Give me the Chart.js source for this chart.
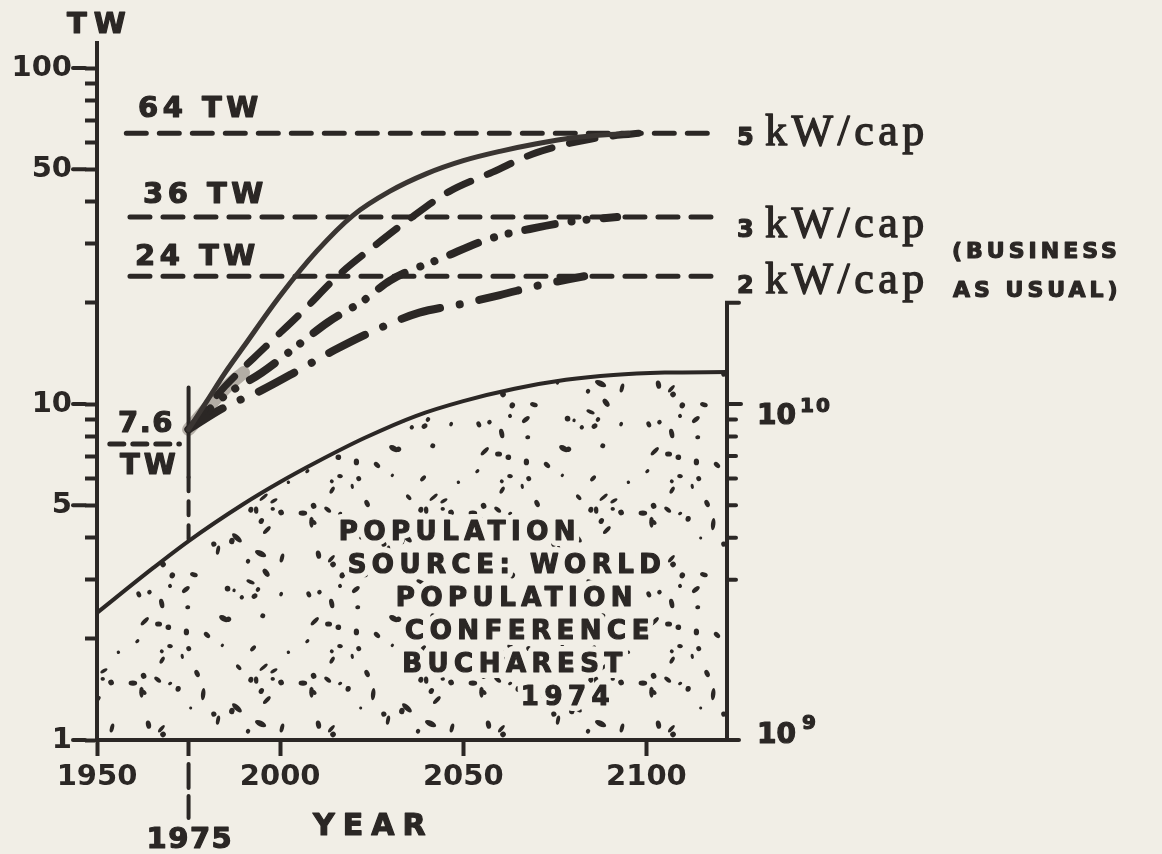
<!DOCTYPE html>
<html>
<head>
<meta charset="utf-8">
<title>Energy demand scenarios and world population</title>
<script src="https://cdn.jsdelivr.net/npm/chart.js@4.4.1/dist/chart.umd.min.js"></script>
<style>
  html, body { margin: 0; padding: 0; background: #f1eee6; }
  canvas { display: block; }
</style>
</head>
<body>
<canvas id="energyChart" width="1162" height="854"></canvas>
<script>
// axes
const xTicks = [1950, 1975, 2000, 2050, 2100];
const twTicks = [1, 2, 3, 4, 5, 6, 7, 8, 9, 10, 20, 30, 40, 50, 60, 70, 80, 90, 100];
const twLabelled = [1, 5, 10, 50, 100];
const popTicks = [3e9, 4e9, 5e9, 6e9, 7e9, 8e9, 9e9, 1e10];
const popAxisTop = 2e10;

// population (persons)
const popYears = [1950, 1965, 1975, 1990, 2000, 2010, 2023, 2037, 2050, 2064, 2078, 2091, 2105, 2122];
const population = [2.39e9, 3.23e9, 3.91e9, 5.04e9, 5.86e9, 6.72e9, 7.92e9, 9.21e9, 10.2e9, 11.1e9, 11.8e9, 12.2e9, 12.4e9, 12.45e9];

// energy demand curves (TW)
const highYears = [1975, 1980, 1985, 1990, 2000, 2010, 2020, 2030, 2040, 2050, 2060, 2070, 2080, 2095];
const highTW = [8.4, 10.2, 12.4, 14.8, 21, 28.5, 36.5, 43, 48.5, 53, 56.5, 59.5, 62, 64];
const fiveYears = [1975, 1985, 1996, 2006, 2016, 2026, 2036, 2046, 2058, 2070, 2085, 2098];
const fiveTW = [8.4, 11.3, 14.8, 18.8, 24.2, 29.7, 36, 42.8, 49, 56, 61.5, 64];
const threeYears = [1975, 1985, 1995, 2005, 2013, 2023, 2030, 2045, 2057, 2070, 2080, 2092];
const threeTW = [8.4, 10.6, 12.4, 15, 17.5, 20.4, 23.3, 27.4, 31, 33.5, 35, 36];
const twoYears = [1975, 1985, 1995, 2005, 2015, 2026, 2038, 2049, 2060, 2071, 2083];
const twoTW = [8.4, 9.8, 11, 12.6, 14.5, 16.6, 18.7, 19.8, 21.1, 22.6, 24];
const smearYears = [1975, 1980, 1986, 1990];
const smearTW = [8.4, 9.7, 11.4, 12.4];

// saturation levels
const levelTW = [64, 36, 24];
const levelStart = [1958, 1959, 1959];
const levelEnd = 2120;
const levelNames = ['64 TW', '36 TW', '24 TW'];
const perCapita = ['5', '3', '2'];

// 1975 reference
const baseYear = 1975;
const baseTW = 7.6;
const baseSpan = [1953.5, 1972.5];
const markerTop = 11.2, markerMid = 6.05, markerBottom = 3.91;

const INK = '#2b2725';
const BG = '#f1eee6';
const SANS = '"DejaVu Sans", sans-serif';
const SERIF = '"Liberation Serif", serif';

function pts(xs, ys) {
    return xs.map((x, i) => ({ x: x, y: ys[i] }));
}

// stipple texture for the population area
function makeStipple(ctx) {
    const size = 170;
    const c = document.createElement('canvas');
    c.width = c.height = size;
    const g = c.getContext('2d');
    let seed = 11;
    const rnd = () => (seed = (seed * 16807) % 2147483647) / 2147483647;
    g.fillStyle = INK;
    for (let i = 0; i < 62; i++) {
        const px = rnd() * size, py = rnd() * size;
        const r = 1.5 + rnd() * 1.4, stretch = 1 + rnd() * rnd() * 2.2, ang = rnd() * Math.PI;
        for (const dx of [-size, 0, size]) {
            for (const dy of [-size, 0, size]) {
                g.beginPath();
                g.ellipse(px + dx, py + dy, r * stretch, r, ang, 0, Math.PI * 2);
                g.fill();
            }
        }
    }
    return ctx.createPattern(c, 'repeat');
}

function text(ctx, str, x, y, size, opts = {}) {
    ctx.save();
    ctx.font = `${opts.weight || 'bold'} ${size}px ${opts.family || SANS}`;
    ctx.letterSpacing = (opts.spacing || 0) + 'px';
    ctx.textAlign = opts.align || 'left';
    ctx.textBaseline = 'alphabetic';
    ctx.lineJoin = 'round';
    if (opts.halo) {
        ctx.strokeStyle = BG;
        ctx.lineWidth = opts.halo;
        ctx.strokeText(str, x, y);
    }
    ctx.fillStyle = INK;
    ctx.fillText(str, x, y);
    ctx.strokeStyle = INK;
    ctx.lineWidth = opts.ink === undefined ? 1.2 : opts.ink;
    if (ctx.lineWidth > 0) ctx.strokeText(str, x, y);
    ctx.restore();
}

function seg(ctx, x1, y1, x2, y2) {
    ctx.beginPath();
    ctx.moveTo(x1, y1);
    ctx.lineTo(x2, y2);
    ctx.stroke();
}

const decor = {
    id: 'decor',
    afterDraw(chart) {
        const { ctx, chartArea: a, scales: { x, y, y2 } } = chart;
        ctx.save();
        ctx.strokeStyle = INK;
        ctx.lineCap = 'round';
        ctx.lineWidth = 4;

        // longer marks at labelled TW ticks
        twLabelled.forEach(v => {
            const py = y.getPixelForValue(v);
            seg(ctx, a.left - 24, py, a.left - 12, py);
        });

        // population axis on the right
        const rx = a.right;
        const top = y2.getPixelForValue(popAxisTop);
        const bottom = y2.getPixelForValue(1e9);
        ctx.beginPath();
        ctx.moveTo(rx + 12, top);
        ctx.lineTo(rx, top);
        ctx.lineTo(rx, bottom);
        ctx.lineTo(rx + 12, bottom);
        ctx.stroke();
        popTicks.forEach(v => {
            const py = y2.getPixelForValue(v);
            seg(ctx, rx, py, rx + (v === 1e10 ? 14 : 9), py);
        });

        // 1975 marker below the axis
        const bx = x.getPixelForValue(baseYear);
        ctx.setLineDash([24, 8]);
        seg(ctx, bx, a.bottom + 24, bx, a.bottom + 78);
        ctx.setLineDash([]);
        ctx.restore();

        // right axis labels
        const p10 = y2.getPixelForValue(1e10);
        const p9 = y2.getPixelForValue(1e9);
        text(ctx, '10', rx + 30, p10 + 20, 28);
        text(ctx, '10', rx + 73, p10 + 8, 20, { spacing: 2 });
        text(ctx, '10', rx + 30, p9 + 3, 28);
        text(ctx, '9', rx + 75, p9 - 11, 20);

        // axis titles
        text(ctx, 'TW', a.left - 30, a.top - 10, 29, { spacing: 7 });
        text(ctx, 'YEAR', 313, a.bottom + 95, 30, { spacing: 8 });
        text(ctx, '1975', bx - 42, a.bottom + 108, 29, { spacing: 1.5 });

        // level labels
        const nameX = [138, 143, 135];
        const nameOff = [-16, -14, -11];
        const capOff = [12, 20, 17];
        levelTW.forEach((v, i) => {
            const py = y.getPixelForValue(v);
            text(ctx, levelNames[i], nameX[i], py + nameOff[i], 29, { spacing: 4.5 });
            text(ctx, perCapita[i], rx + 10, py + capOff[i], 24);
            text(ctx, 'kW/cap', rx + 38, py + capOff[i], 44, { family: SERIF, weight: 'normal', spacing: 4.5, ink: 1.3 });
        });
        const p2 = y.getPixelForValue(levelTW[2]);
        text(ctx, '(BUSINESS', rx + 225, p2 - 18, 22, { spacing: 4 });
        text(ctx, 'AS USUAL)', rx + 226, p2 + 21, 22, { spacing: 4 });

        // 7.6 TW
        const p76 = y.getPixelForValue(baseTW);
        text(ctx, '7.6', 118, p76 - 12, 29, { spacing: 1.5 });
        text(ctx, 'TW', 120, p76 + 30, 29, { spacing: 4 });

        // population source note
        const note = ['POPULATION', 'SOURCE: WORLD', 'POPULATION', 'CONFERENCE', 'BUCHAREST', '1974'];
        const noteX = [457, 504, 514, 527, 512, 565];
        note.forEach((s, i) => {
            text(ctx, s, noteX[i] + 3, 540 + i * 33, 26, { spacing: 5.5, align: 'center', halo: 12 });
        });
    }
};

const bgPlugin = {
    id: 'bg',
    beforeDraw(chart) {
        const c = chart.ctx;
        c.save();
        c.fillStyle = BG;
        c.fillRect(0, 0, chart.width, chart.height);
        c.restore();
    }
};

const cv = document.getElementById('energyChart');
const ctx = cv.getContext('2d');
const tickFont = { family: 'DejaVu Sans', size: 29, weight: 'bold' };

const energyChart = new Chart(ctx, {
    type: 'line',
    data: {
        datasets: [
            {
                label: 'Population',
                data: pts(popYears, population),
                yAxisID: 'y2',
                borderColor: INK,
                borderWidth: 4,
                backgroundColor: makeStipple(ctx),
                fill: 'start',
                cubicInterpolationMode: 'monotone',
                order: 5
            },
            {
                label: 'smear',
                data: pts(smearYears, smearTW),
                borderColor: '#b3ada5',
                borderWidth: 13,
                cubicInterpolationMode: 'monotone',
                order: 4
            },
            {
                label: '5 kW/cap high',
                data: pts(highYears, highTW),
                borderColor: '#3a3532',
                borderWidth: 5,
                cubicInterpolationMode: 'monotone'
            },
            {
                label: '5 kW/cap',
                data: pts(fiveYears, fiveTW),
                borderColor: INK,
                borderWidth: 7,
                borderDash: [26, 18],
                cubicInterpolationMode: 'monotone'
            },
            {
                label: '3 kW/cap',
                data: pts(threeYears, threeTW),
                borderColor: INK,
                borderWidth: 8,
                borderDash: [30, 17, 0.1, 15, 0.1, 17],
                cubicInterpolationMode: 'monotone'
            },
            {
                label: '2 kW/cap',
                data: pts(twoYears, twoTW),
                borderColor: INK,
                borderWidth: 8,
                borderDash: [40, 20, 0.1, 20],
                cubicInterpolationMode: 'monotone'
            },
            ...levelTW.map((v, i) => ({
                label: levelNames[i],
                data: [{ x: levelStart[i], y: v }, { x: levelEnd, y: v }],
                borderColor: INK,
                borderWidth: 5,
                borderDash: [20, 13]
            })),
            {
                label: '7.6 TW',
                data: [{ x: baseSpan[0], y: baseTW }, { x: baseSpan[1], y: baseTW }],
                borderColor: INK,
                borderWidth: 5,
                borderDash: [14, 9]
            },
            {
                label: '1975',
                data: [{ x: baseYear, y: markerTop }, { x: baseYear, y: markerMid }],
                borderColor: INK,
                borderWidth: 4
            },
            {
                label: '1975 dashed',
                data: [{ x: baseYear, y: markerMid }, { x: baseYear, y: markerBottom }],
                borderColor: INK,
                borderWidth: 4,
                borderDash: [14, 10]
            }
        ]
    },
    options: {
        responsive: false,
        animation: false,
        devicePixelRatio: 1,
        layout: { padding: { top: 43, right: 435, left: 0, bottom: 0 } },
        elements: {
            point: { radius: 0, hoverRadius: 0 },
            line: { borderCapStyle: 'round', borderJoinStyle: 'round', fill: false }
        },
        plugins: {
            legend: { display: false },
            tooltip: { enabled: false }
        },
        scales: {
            x: {
                type: 'linear',
                min: 1950,
                max: 2122,
                afterBuildTicks: s => { s.ticks = xTicks.map(v => ({ value: v })); },
                afterFit: s => { s.height = 114; },
                grid: { drawOnChartArea: false, tickLength: 16, tickWidth: 4, tickColor: INK },
                border: { color: INK, width: 4 },
                ticks: {
                    color: INK,
                    font: tickFont,
                    padding: 4,
                    maxRotation: 0,
                    autoSkip: false,
                    callback: v => (v === baseYear ? '' : String(v))
                }
            },
            y: {
                type: 'logarithmic',
                position: 'left',
                min: 1,
                max: 118.7,
                afterBuildTicks: s => { s.ticks = twTicks.map(v => ({ value: v })); },
                afterFit: s => { s.width = 97; },
                grid: { drawOnChartArea: false, tickLength: 12, tickWidth: 4, tickColor: INK },
                border: { color: INK, width: 4 },
                ticks: {
                    color: INK,
                    font: tickFont,
                    padding: 13,
                    autoSkip: false,
                    callback: v => (twLabelled.includes(v) ? String(v) : '')
                }
            },
            y2: {
                type: 'logarithmic',
                position: 'right',
                min: 1e9,
                max: 118.7e9,
                display: false
            }
        }
    },
    plugins: [bgPlugin, decor]
});
</script>
</body>
</html>
